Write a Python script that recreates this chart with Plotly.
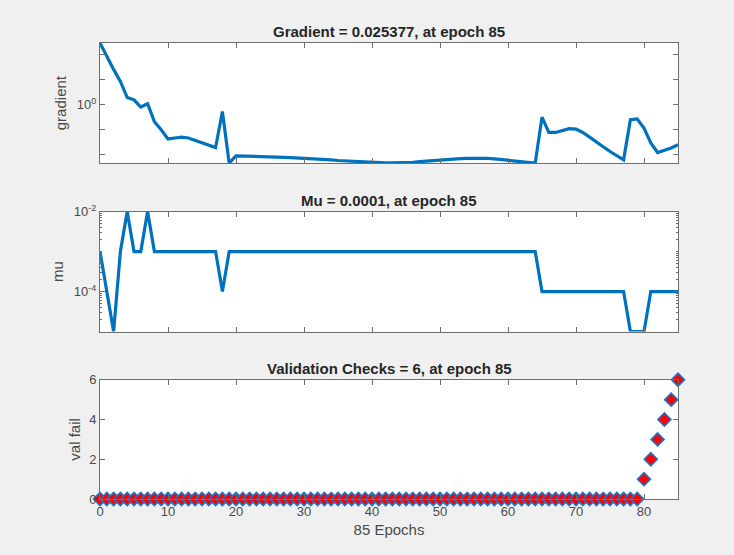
import plotly.graph_objects as go
import math

epochs = list(range(0, 86))

gradient = [295, 85, 26, 8.6, 1.95, 1.58, 0.81, 1.1, 0.21, 0.10,
            0.043, 0.047, 0.051, 0.047, 0.037, 0.030, 0.023, 0.0195, 0.54, 0.0046,
            0.0091, 0.0090, 0.0089, 0.0088, 0.0086, 0.0083, 0.0081, 0.0079, 0.0077, 0.0075,
            0.0073, 0.0070, 0.0068, 0.0065, 0.0062, 0.0059, 0.0057, 0.0054, 0.0052, 0.0050,
            0.0049, 0.0048, 0.0047, 0.0047, 0.0047, 0.0048, 0.0050, 0.0053, 0.0056, 0.0059,
            0.0062, 0.0065, 0.0068, 0.0070, 0.0072, 0.0073, 0.0073, 0.0072, 0.0069, 0.0065,
            0.0060, 0.0055, 0.0051, 0.0048, 0.0046, 0.32, 0.078, 0.078, 0.093, 0.11,
            0.107, 0.078, 0.051, 0.034, 0.021, 0.0135, 0.0091, 0.0063, 0.25, 0.27,
            0.117, 0.030, 0.0123, 0.0148, 0.0186, 0.025377]

mu = ([1e-3, 1e-4, 1e-5, 1e-3, 1e-2, 1e-3, 1e-3, 1e-2] + [1e-3] * 10 + [1e-4]
      + [1e-3] * 46 + [1e-4] * 13 + [1e-5] * 3 + [1e-4] * 5)

val_fail = [0] * 80 + [1, 2, 3, 4, 5, 6]

titles = ["Gradient = 0.025377, at epoch 85",
          "Mu = 0.0001, at epoch 85",
          "Validation Checks = 6, at epoch 85"]
ylabels = ["gradient", "mu", "val fail"]
xlabel = "85 Epochs"

BLUE = "#0072BD"
AX = "#6e6e6e"
TXT = "#4a4a4a"
FONT = "Liberation Sans, Arial, sans-serif"

fig = go.Figure()
fig.add_trace(go.Scatter(x=epochs, y=gradient, mode="lines",
                         line=dict(color=BLUE, width=3.2), xaxis="x", yaxis="y",
                         showlegend=False))
fig.add_trace(go.Scatter(x=epochs, y=mu, mode="lines",
                         line=dict(color=BLUE, width=3.2), xaxis="x2", yaxis="y2",
                         showlegend=False))
fig.add_trace(go.Scatter(x=epochs, y=val_fail, mode="markers", cliponaxis=False,
                         marker=dict(symbol="diamond", size=10, color="#ff0000",
                                     line=dict(color="#1a75c8", width=1.6)),
                         xaxis="x3", yaxis="y3", showlegend=False))

doms = [[0.7364, 1.0], [0.3673, 0.6303], [0.0, 0.2615]]

common_x = dict(range=[0, 85], dtick=10, tick0=0, ticks="inside", ticklen=5,
                tickcolor=AX, showline=True, linecolor=AX, linewidth=1,
                mirror="ticks", showgrid=False, zeroline=False, domain=[0, 1],
                tickfont=dict(family=FONT, size=13, color=TXT))
common_y = dict(ticks="inside", ticklen=5, tickcolor=AX, showline=True,
                linecolor=AX, linewidth=1, mirror="ticks", showgrid=False,
                zeroline=False, tickfont=dict(family=FONT, size=13, color=TXT))

gmin, gmax = math.log10(min(gradient)), math.log10(max(gradient))

fig.update_layout(
    width=734, height=555,
    margin=dict(l=100, r=56, t=43, b=56),
    paper_bgcolor="#f0f0f0", plot_bgcolor="white",
    font=dict(family=FONT, color=TXT),
    xaxis=dict(common_x, anchor="y", showticklabels=False),
    xaxis2=dict(common_x, anchor="y2", showticklabels=False),
    xaxis3=dict(common_x, anchor="y3", showticklabels=True,
                title=dict(text=xlabel, font=dict(family=FONT, size=15, color=TXT), standoff=6)),
    yaxis=dict(common_y, type="log", domain=doms[0], range=[gmin, gmax],
               tickvals=[1], ticktext=["10<sup>0</sup>"],
               minor=dict(ticks="inside", ticklen=5, tickcolor=AX,
                          tickvals=[1e-2, 1e-1, 10, 100]),
               title=dict(text=ylabels[0], font=dict(family=FONT, size=15, color=TXT), standoff=6)),
    yaxis2=dict(common_y, type="log", domain=doms[1], range=[-5, -2],
                tickvals=[1e-4, 1e-2],
                ticktext=["10<sup>-4</sup>", "10<sup>-2</sup>"],
                minor=dict(ticks="inside", ticklen=2, tickcolor=AX,
                           tickvals=[m * 10.0 ** d for d in range(-5, -2) for m in range(1, 10)]),
                title=dict(text=ylabels[1], font=dict(family=FONT, size=15, color=TXT), standoff=6)),
    yaxis3=dict(common_y, domain=doms[2], range=[0, 6], dtick=2, tick0=0,
                title=dict(text=ylabels[2], font=dict(family=FONT, size=15, color=TXT), standoff=4)),
)

for t, d in zip(titles, doms):
    fig.add_annotation(text="<b>" + t + "</b>", xref="paper", yref="paper",
                       x=0.5, y=d[1], xanchor="center", yanchor="bottom", yshift=1,
                       showarrow=False, font=dict(family=FONT, size=15, color="#262626"))

fig.write_html("out.html")
